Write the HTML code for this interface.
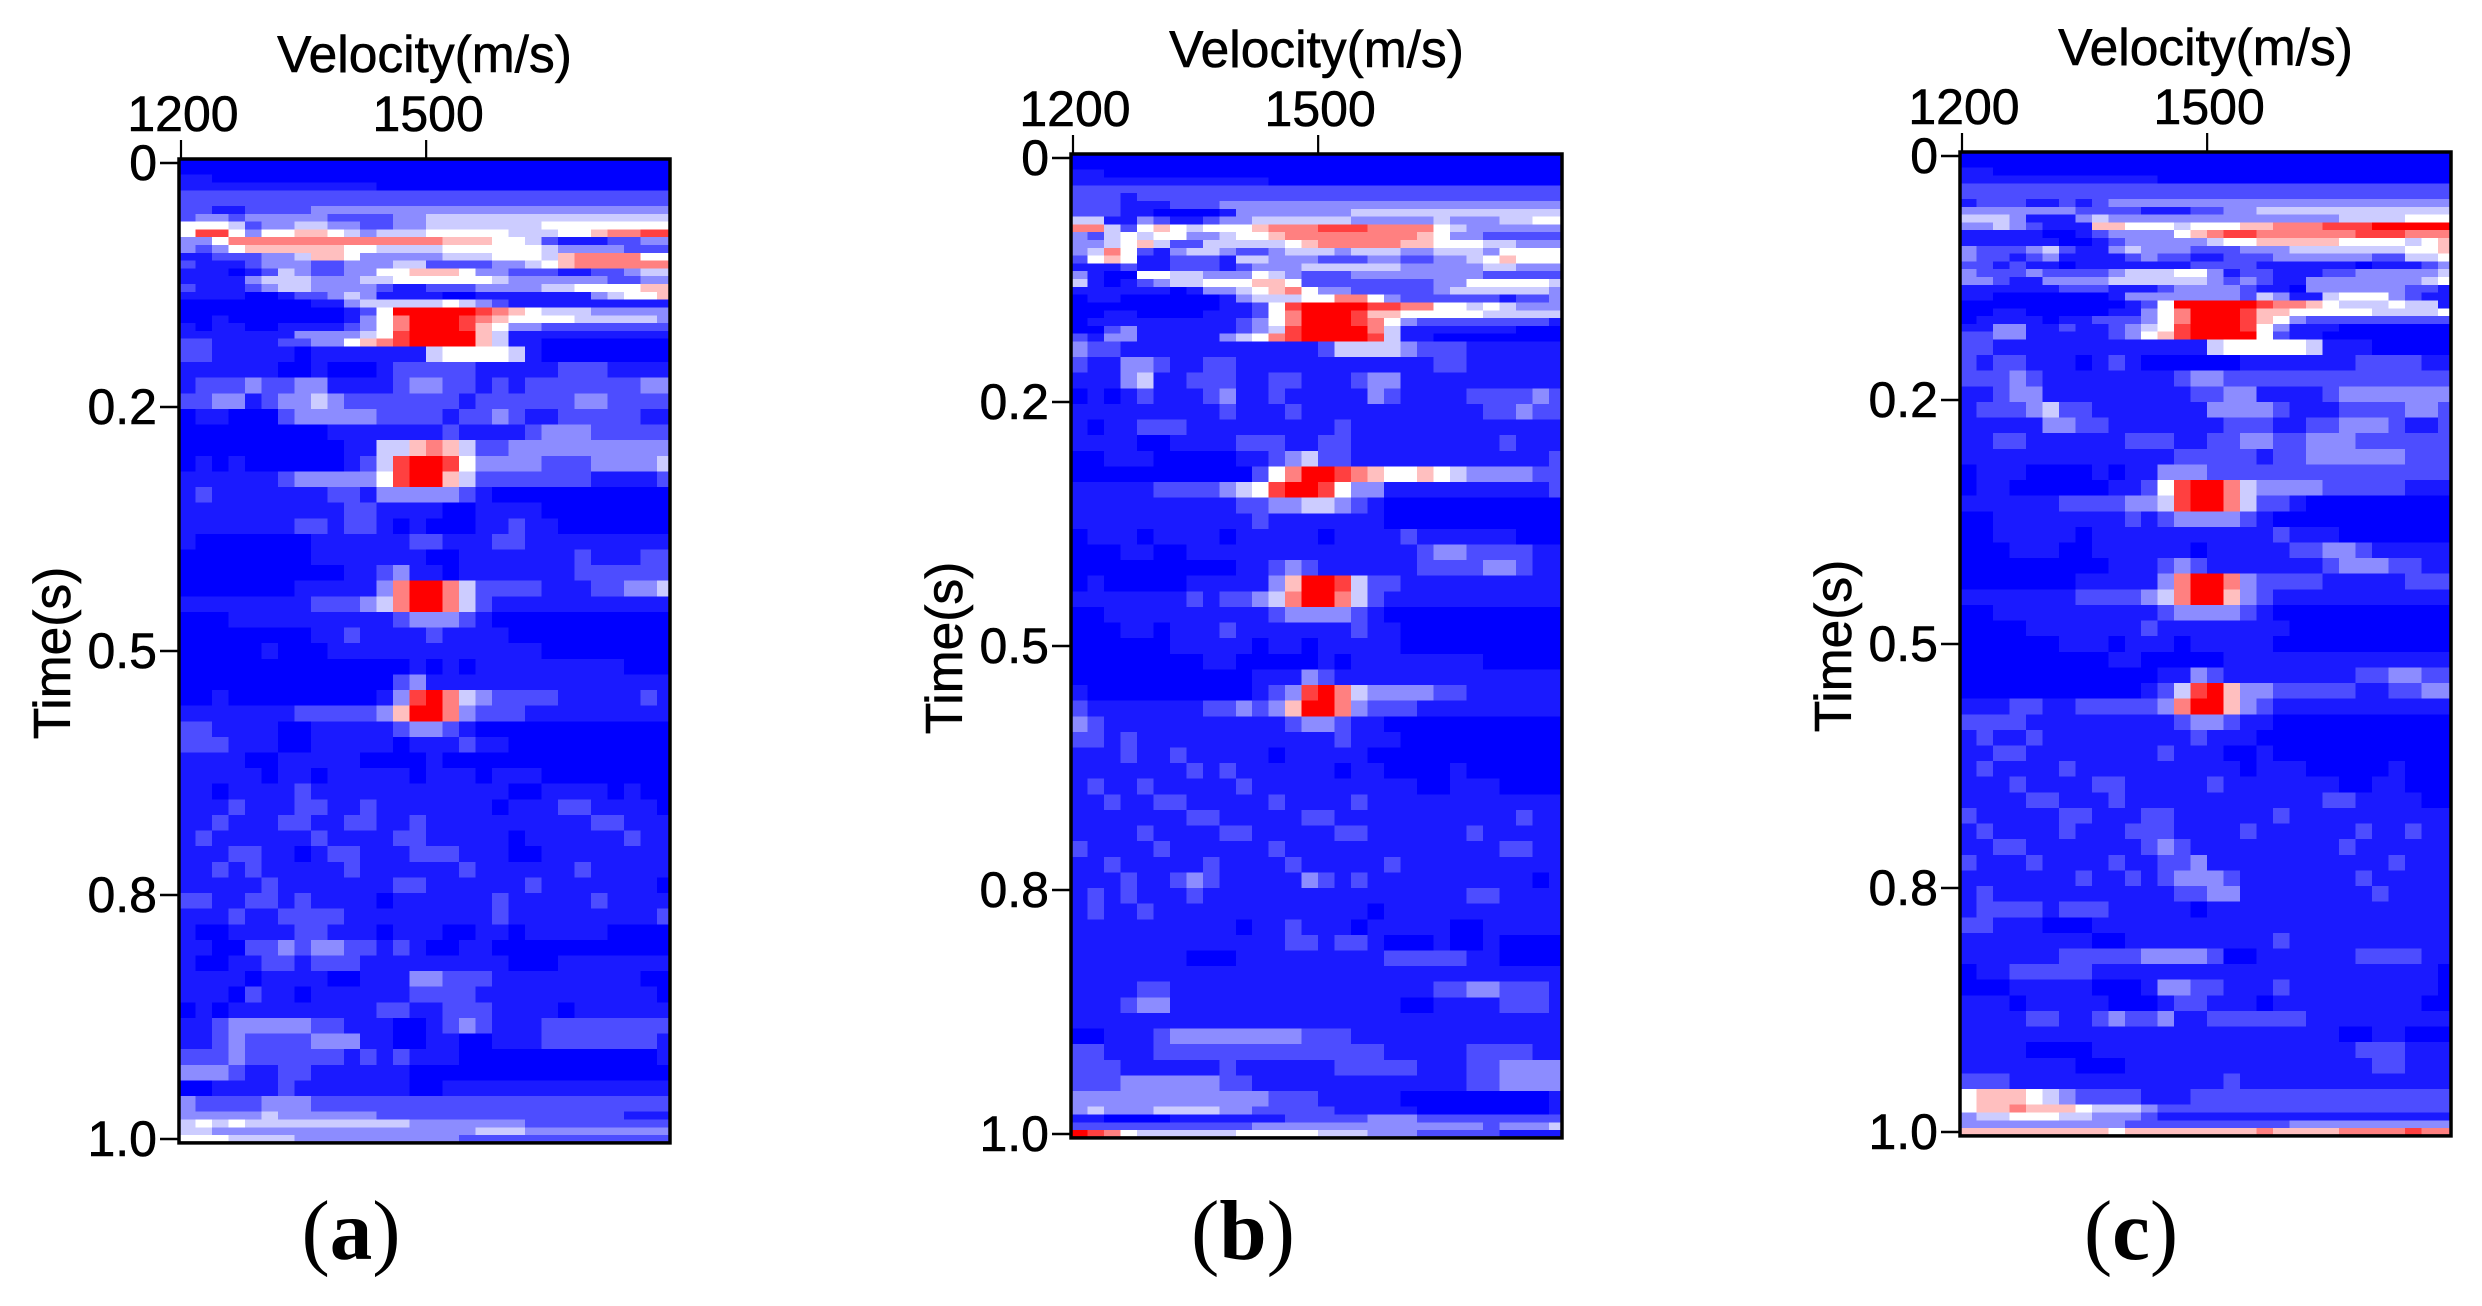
<!DOCTYPE html>
<html lang="en">
<head>
<meta charset="utf-8">
<title>Velocity spectra</title>
<style>
html,body{margin:0;padding:0;background:#fff}
#chart{display:block;width:2482px;height:1306px}
text{font-family:"Liberation Sans",Arial,sans-serif;fill:#000;stroke:#000;stroke-width:.6px}
text.cap{font-family:"Liberation Serif","Times New Roman",serif;stroke:none}
</style>
</head>
<body>
<svg id="chart" xmlns="http://www.w3.org/2000/svg" width="2482" height="1306" viewBox="0 0 2482 1306"></svg>
<script>
const velocityColumns=[1200,1220,1240,1260,1280,1300,1320,1340,1360,1380,1400,1420,1440,1460,1480,1500,1520,1540,1560,1580,1600,1620,1640,1660,1680,1700,1720,1740,1760,1780,1796];
const timeEdges=[-0.004,0.004,0.012,0.02,0.028,0.036,0.044,0.052,0.06,0.068,0.076,0.084,0.092,0.1,0.108,0.116,0.124,0.132,0.14,0.148,0.156,0.164,0.172,0.18,0.188,0.204,0.22,0.236,0.252,0.268,0.284,0.3,0.316,0.332,0.348,0.364,0.38,0.396,0.412,0.428,0.444,0.46,0.476,0.492,0.508,0.524,0.54,0.556,0.572,0.588,0.604,0.62,0.636,0.652,0.668,0.684,0.7,0.716,0.732,0.748,0.764,0.78,0.796,0.812,0.828,0.844,0.86,0.876,0.892,0.908,0.924,0.94,0.956,0.972,0.98,0.988,0.996,1.004];
const velocityTicks=[1200,1500];
const velocityTickLabels=["1200","1500"];
const timeTicks=[0,0.25,0.5,0.75,1.0];
const timeTickLabels=["0","0.2","0.5","0.8","1.0"];
const semblanceA=[
[0,0,0,0,0,0,0,0,0,0,0,0,0,0,0,0,0,0,0,0,0,0,0,0,0,0,0,0,0,0],
[0,0,0,0,0,0,0,0,0,0,0,0,0,0,0,0,0,0,0,0,0,0,0,0,0,0,0,0,0,0],
[1,1,0,0,0,0,0,0,0,0,0,0,0,0,0,0,0,0,0,0,0,0,0,0,0,0,0,0,0,0],
[1,1,1,1,1,1,1,1,1,1,1,1,0,0,0,0,0,0,0,0,0,0,0,0,0,0,0,0,0,0],
[2,2,2,2,2,2,2,2,2,2,2,2,2,2,2,2,2,2,2,2,2,2,2,2,2,2,2,2,2,2],
[2,2,2,2,2,2,2,2,2,2,2,2,2,2,2,2,2,2,2,2,2,2,2,2,2,2,2,2,2,2],
[2,2,1,1,2,2,2,2,3,3,3,3,3,3,3,3,3,3,3,3,3,3,3,3,3,3,3,3,3,3],
[2,3,3,2,3,3,3,3,3,2,2,2,2,3,3,4,4,4,4,4,4,4,4,4,4,4,4,4,4,4],
[5,5,5,4,2,3,3,4,4,3,3,2,2,3,3,4,4,4,4,4,4,4,5,5,5,5,5,5,5,5],
[5,8,8,5,3,5,5,6,6,5,4,3,4,4,4,5,5,5,5,5,4,4,4,5,5,6,7,7,8,8],
[3,3,5,7,7,7,7,7,7,7,7,7,7,7,7,7,6,6,6,5,5,4,2,1,1,1,2,2,3,3],
[3,2,3,5,6,6,6,6,6,6,5,5,4,4,4,4,5,5,5,5,5,5,4,3,3,3,3,2,2,2],
[1,1,2,2,2,3,3,4,6,6,5,3,3,3,3,3,4,4,4,5,5,5,4,6,7,7,7,7,5,5],
[2,1,1,1,2,3,3,3,2,2,3,3,3,4,4,2,2,2,2,3,3,4,5,6,7,7,7,7,7,7],
[1,1,1,0,1,2,4,3,2,2,3,3,5,5,6,6,6,5,3,3,2,2,2,1,1,2,2,3,4,4],
[1,1,1,1,3,4,4,4,3,3,3,4,4,5,5,5,5,5,5,4,3,3,3,3,3,3,2,2,3,3],
[2,1,1,1,2,3,4,4,3,3,3,3,2,1,1,2,2,2,3,3,3,3,4,4,5,5,5,5,6,6],
[1,1,1,1,0,0,1,2,2,3,4,3,1,1,1,1,0,0,1,1,1,1,1,1,1,3,4,5,5,6],
[0,0,0,0,0,0,0,0,1,1,3,4,4,4,4,4,5,4,3,2,1,1,1,1,1,1,1,1,1,1],
[0,0,0,0,0,0,0,0,0,0,1,2,5,9,9,9,9,9,8,7,6,5,4,4,4,3,3,3,3,3],
[0,0,1,0,0,0,0,0,0,0,1,3,5,7,9,9,9,8,7,6,5,5,5,5,4,4,4,4,4,3],
[1,0,1,1,0,0,1,1,1,1,2,3,5,7,9,9,9,8,6,5,3,3,2,2,2,2,2,2,2,2],
[1,1,1,1,1,1,1,3,3,3,3,4,5,8,9,9,9,9,6,4,1,1,1,1,1,1,1,1,1,1],
[2,2,1,1,1,1,2,2,3,3,5,6,7,8,9,9,9,9,6,4,1,1,0,0,0,0,0,0,0,0],
[2,2,1,1,1,1,1,0,1,1,1,1,1,1,1,4,5,5,5,5,4,1,0,0,0,0,0,0,0,0],
[1,1,1,1,1,1,0,0,1,0,0,0,1,2,2,2,2,2,1,1,1,1,1,2,2,2,1,1,1,1],
[1,2,2,2,3,2,2,3,3,1,1,1,1,2,3,3,2,2,1,2,1,2,2,2,2,2,2,2,3,3],
[2,2,3,3,1,2,3,3,4,3,2,2,2,2,2,2,2,1,2,2,2,2,2,2,3,3,2,2,2,2],
[0,1,1,0,0,0,2,3,3,3,3,3,2,2,2,2,1,2,2,3,2,1,1,2,2,2,2,2,1,1],
[0,0,0,0,0,0,0,0,0,1,1,1,1,1,1,1,2,1,1,1,1,2,3,3,3,2,2,2,2,2],
[0,0,0,0,0,0,0,0,0,0,1,1,4,4,6,7,6,4,2,2,3,3,3,3,3,3,3,3,3,3],
[0,1,0,1,0,0,0,0,0,0,1,2,4,8,9,9,8,5,3,3,3,3,2,2,2,3,3,3,3,4],
[1,1,1,1,1,1,2,3,3,3,3,3,5,8,9,9,6,4,2,2,2,2,2,2,2,1,1,1,1,2],
[1,2,1,1,1,1,1,1,1,2,2,1,3,3,3,3,3,2,1,0,0,0,0,0,0,0,0,0,0,0],
[1,1,1,1,1,1,1,1,1,1,2,2,1,1,1,1,0,0,1,1,1,1,0,0,0,0,0,0,0,0],
[1,1,1,1,1,1,1,2,2,1,2,2,1,0,1,0,0,0,1,1,2,1,1,0,0,0,0,0,0,0],
[1,0,0,0,0,0,0,0,1,1,1,1,1,1,2,2,1,1,1,2,2,1,1,1,1,1,1,1,1,1],
[0,0,0,0,0,0,0,0,1,1,1,1,1,1,1,0,0,1,1,1,1,1,1,1,2,1,1,1,2,2],
[0,0,0,0,0,0,0,0,0,0,1,1,2,3,1,1,0,1,1,1,1,1,1,1,2,2,2,2,2,2],
[0,0,0,0,0,0,0,1,1,1,1,1,3,7,9,9,7,4,2,2,2,2,1,1,1,2,2,3,3,4],
[1,1,1,1,1,1,1,1,2,2,2,3,4,7,9,9,7,4,2,1,1,1,1,1,1,1,1,1,1,1],
[0,0,0,1,1,1,1,1,1,1,1,1,1,2,3,3,3,2,1,0,0,0,0,0,0,0,0,0,0,0],
[0,0,0,0,0,0,0,0,1,1,2,1,1,1,1,2,1,1,1,1,0,0,0,0,0,0,0,0,0,0],
[0,0,0,0,0,1,0,0,0,1,1,1,1,1,1,1,1,1,1,1,1,1,0,0,0,0,0,0,0,0],
[0,0,0,0,0,0,0,0,0,0,0,0,0,0,1,0,1,0,1,1,1,1,1,1,1,1,1,0,0,0],
[0,0,0,0,0,0,0,0,0,0,0,0,0,2,3,1,1,1,1,1,1,1,1,1,1,1,1,1,1,1],
[0,0,1,0,0,0,0,0,0,0,0,0,1,3,8,9,7,4,3,2,2,2,2,1,1,1,1,1,2,1],
[1,1,1,1,1,1,1,2,2,2,2,2,3,6,9,9,7,3,2,2,2,1,1,1,1,1,1,1,1,1],
[2,2,1,1,1,1,0,0,1,1,1,1,1,2,3,3,2,1,0,0,0,0,0,0,0,0,0,0,0,0],
[2,2,2,1,1,1,0,0,1,1,1,1,1,0,1,1,1,2,1,1,0,0,0,0,0,0,0,0,0,0],
[1,1,1,1,0,0,1,1,1,1,1,0,0,0,0,1,0,0,0,0,0,0,0,0,0,0,0,0,0,0],
[1,1,1,1,1,0,1,1,0,1,1,1,1,1,0,1,1,1,0,1,1,1,0,0,0,0,0,0,0,0],
[1,1,0,1,1,1,1,2,1,1,1,1,1,1,1,1,1,1,1,1,0,0,1,1,1,1,0,1,0,0],
[1,1,1,2,1,1,1,2,2,1,1,2,1,1,1,1,1,1,1,0,1,1,1,2,2,1,1,1,1,0],
[1,1,2,1,1,1,2,2,1,1,2,2,1,1,2,1,1,1,1,1,1,1,1,1,1,2,2,1,1,1],
[1,2,1,1,1,1,1,1,2,1,1,1,1,2,2,1,1,1,1,1,0,1,1,1,1,1,1,2,1,1],
[1,1,1,2,2,1,1,0,1,2,2,1,1,1,2,2,2,1,1,1,0,0,1,1,1,1,1,1,1,1],
[1,1,2,1,2,1,1,1,1,1,2,1,1,1,1,1,1,2,1,1,1,1,1,1,2,1,1,1,1,1],
[1,1,1,1,1,2,1,1,1,1,1,1,1,2,2,1,1,1,1,1,1,2,1,1,1,1,1,1,1,0],
[2,2,1,1,2,2,1,2,1,1,1,1,0,1,1,1,1,1,1,2,1,1,1,1,1,2,1,1,1,1],
[1,1,1,2,1,1,2,2,2,2,1,1,1,1,1,1,1,1,1,2,1,1,1,1,1,1,1,1,1,2],
[1,0,0,1,1,1,1,2,2,1,1,1,0,1,1,1,0,0,1,1,0,1,1,1,1,1,0,0,0,0],
[1,1,0,0,2,2,3,2,3,3,2,2,1,2,1,0,0,1,1,0,0,0,0,0,0,0,0,0,0,0],
[1,0,0,1,1,2,2,1,2,2,2,1,1,1,1,1,1,1,1,1,0,0,0,1,1,1,1,1,1,1],
[1,1,1,1,0,1,1,1,1,0,0,1,1,1,3,3,2,2,2,1,1,1,1,1,1,1,1,1,0,0],
[1,1,1,0,2,1,1,0,1,1,1,1,1,1,2,2,2,2,1,1,1,1,1,1,1,1,1,1,1,0],
[0,1,0,1,1,1,1,1,1,1,1,1,2,2,1,1,2,2,2,1,1,1,1,0,1,1,1,1,1,1],
[1,1,2,3,3,3,3,3,2,2,1,1,1,0,0,1,2,3,2,1,1,1,2,2,2,2,2,2,2,2],
[1,1,2,3,2,2,2,2,3,3,3,1,1,0,0,1,1,0,0,1,1,1,2,2,2,2,2,2,2,1],
[2,2,2,3,2,2,2,2,2,2,1,2,1,2,1,1,1,0,0,0,0,0,0,0,0,0,0,0,0,1],
[3,3,3,2,1,1,2,2,1,1,1,1,1,1,0,0,0,0,0,0,0,0,0,0,0,0,0,0,0,0],
[0,0,1,1,1,1,2,1,1,1,1,1,1,1,0,0,1,1,1,1,1,1,1,1,1,1,1,1,1,1],
[3,2,2,2,2,3,3,3,2,2,2,2,2,2,2,2,2,2,2,2,2,2,2,2,2,2,2,2,2,2],
[3,3,3,3,3,4,3,3,3,3,3,3,2,2,2,2,2,2,2,2,2,2,2,2,2,2,2,1,1,1],
[4,5,4,5,4,4,4,4,4,4,4,4,4,4,3,3,3,3,3,3,3,2,2,2,2,2,2,2,2,2],
[4,4,3,3,3,3,3,3,3,3,3,3,3,3,3,3,3,3,4,4,4,3,3,3,3,3,3,3,3,3],
[5,5,5,4,4,4,4,3,3,3,3,3,3,3,3,3,3,2,2,2,2,2,2,2,2,2,2,2,2,2]
];
const semblanceB=[
[0,0,0,0,0,0,0,0,0,0,0,0,0,0,0,0,0,0,0,0,0,0,0,0,0,0,0,0,0,0],
[0,0,0,0,0,0,0,0,0,0,0,0,0,0,0,0,0,0,0,0,0,0,0,0,0,0,0,0,0,0],
[1,1,0,0,0,0,0,0,0,0,0,0,0,0,0,0,0,0,0,0,0,0,0,0,0,0,0,0,0,0],
[1,1,1,1,1,1,1,1,1,1,1,1,0,0,0,0,0,0,0,0,0,0,0,0,0,0,0,0,0,0],
[2,2,2,2,2,2,2,2,2,2,2,2,2,2,2,2,2,2,2,2,2,2,2,2,2,2,2,2,2,2],
[2,2,2,1,2,2,2,2,2,2,2,2,2,2,2,2,2,2,2,2,2,2,2,2,2,2,2,2,2,2],
[2,2,2,1,1,1,2,2,2,3,3,3,3,3,3,3,3,3,3,3,3,3,3,3,3,3,3,3,3,3],
[2,2,2,1,1,0,0,0,0,1,3,3,3,3,3,3,3,4,4,4,4,4,4,4,4,4,4,4,4,4],
[4,4,1,1,3,2,1,1,2,3,3,4,4,4,4,4,4,3,3,3,3,3,4,3,3,3,4,4,5,5],
[7,7,4,2,5,6,5,4,5,5,5,6,7,7,7,8,8,8,7,7,7,7,5,4,3,3,3,3,3,3],
[3,2,4,5,4,5,5,3,3,4,5,5,6,7,7,7,7,7,7,7,7,6,5,3,3,2,2,2,2,2],
[3,3,4,5,6,4,2,2,4,4,4,4,4,5,6,7,7,7,7,7,6,6,5,5,5,4,4,3,3,3],
[3,4,7,5,2,1,3,4,4,3,2,2,3,4,4,4,3,4,4,4,3,3,4,4,4,3,5,5,5,5],
[2,5,6,5,1,1,2,2,2,1,4,4,3,3,3,2,2,2,3,3,2,2,3,3,4,5,6,5,5,5],
[1,1,1,2,1,1,2,2,2,1,2,3,3,3,4,4,4,4,4,4,3,3,3,3,3,4,4,3,3,3],
[3,1,0,0,5,5,4,4,3,3,3,5,4,3,2,2,2,3,3,3,3,3,3,3,3,2,2,2,2,2],
[4,1,0,1,2,3,4,4,5,5,5,6,6,5,2,2,2,2,2,2,2,2,3,3,5,5,5,5,5,4],
[1,1,1,1,1,1,0,1,3,3,4,5,6,7,5,3,3,2,2,2,2,2,3,4,4,4,4,4,4,3],
[0,1,1,0,0,0,0,0,0,1,3,4,4,4,5,5,7,7,5,3,2,2,2,2,2,2,1,2,2,3],
[0,0,0,0,0,0,0,0,0,1,1,2,5,8,9,9,9,9,8,8,7,7,5,5,4,5,4,3,3,3],
[0,0,1,1,0,0,0,0,1,1,1,2,5,7,9,9,9,8,6,6,5,5,5,5,5,4,4,4,4,4],
[0,1,1,1,1,1,1,1,1,1,2,3,5,7,9,9,9,8,7,5,3,2,2,2,2,2,2,2,2,1],
[0,0,2,3,1,1,1,1,1,1,2,3,4,8,9,9,9,9,7,4,1,1,1,1,1,1,1,0,0,0],
[2,1,3,3,1,1,1,1,1,3,4,5,7,8,9,9,9,9,8,4,1,1,0,0,0,0,0,0,0,0],
[3,2,2,1,1,1,1,1,1,1,1,1,1,1,1,2,4,4,4,4,3,2,2,2,1,1,1,1,1,1],
[2,1,1,3,3,2,1,1,2,2,1,1,1,1,1,1,1,1,1,1,1,1,2,2,1,1,1,1,1,1],
[1,1,1,3,4,1,1,2,2,2,1,1,2,2,1,1,1,2,3,3,1,1,1,1,1,1,1,1,1,1],
[0,1,0,1,2,1,1,1,2,3,1,1,2,1,1,1,1,1,3,2,1,1,1,1,2,2,2,2,3,2],
[1,1,1,1,1,1,1,1,1,2,1,1,1,2,1,1,1,1,1,1,1,1,1,1,1,2,2,3,2,2],
[1,0,1,1,2,2,2,1,1,1,1,1,1,1,1,1,2,1,1,1,1,1,1,1,1,1,1,1,1,1],
[1,1,1,1,0,0,1,1,1,1,2,2,2,1,1,2,2,1,1,1,1,1,1,1,1,1,2,1,1,1],
[0,0,1,1,1,0,0,0,0,0,1,1,2,3,4,2,2,1,1,1,1,1,1,1,1,1,1,1,1,2],
[0,0,0,0,0,0,0,0,0,0,0,2,5,7,9,9,8,7,6,5,5,6,5,4,3,3,3,3,2,2],
[1,1,1,1,1,2,2,2,2,3,4,5,8,9,9,8,5,3,3,1,1,1,1,1,1,1,1,1,1,2],
[1,1,1,1,1,1,1,1,1,1,2,2,3,3,4,4,3,2,1,0,0,0,0,0,0,0,0,0,0,0],
[1,1,1,1,1,1,1,1,1,1,1,2,1,1,1,1,1,1,1,0,0,0,0,0,0,0,0,0,0,0],
[0,1,1,1,0,1,1,1,1,0,1,1,1,1,1,0,1,1,1,1,2,1,1,1,1,1,1,0,0,0],
[0,0,0,1,1,0,0,1,1,1,1,1,1,1,1,1,1,1,1,1,1,2,3,3,2,2,2,2,1,1],
[0,0,0,0,0,0,0,0,0,0,1,1,2,3,2,1,1,1,1,1,1,2,2,2,2,3,3,2,1,1],
[0,1,0,0,0,0,0,1,1,1,1,1,3,6,9,9,8,4,2,2,1,1,1,1,1,1,1,1,1,1],
[1,1,1,1,1,1,1,2,1,2,2,3,4,7,9,9,7,4,2,1,1,1,1,1,1,1,1,1,1,1],
[0,0,1,1,1,1,1,1,1,1,1,1,2,3,3,3,3,2,1,0,0,0,0,0,0,0,0,0,0,0],
[0,0,0,1,1,0,1,1,1,2,1,1,1,1,1,1,1,2,1,1,0,0,0,0,0,0,0,0,0,0],
[0,0,0,0,0,0,1,1,1,1,1,0,1,1,0,1,1,1,1,1,0,0,0,0,0,0,0,0,0,0],
[0,0,0,0,0,0,0,0,1,1,0,0,0,0,0,1,0,1,1,1,1,1,1,1,1,0,0,0,0,0],
[0,0,0,0,0,0,0,0,0,0,0,1,1,1,3,2,1,1,1,1,1,1,1,1,1,1,1,1,1,1],
[1,0,0,0,0,0,0,0,0,0,0,1,2,3,8,9,7,4,3,3,3,3,2,2,1,1,1,1,1,1],
[2,1,1,1,1,1,1,1,2,2,3,2,3,6,9,9,7,3,2,2,2,1,1,1,1,1,1,1,1,1],
[3,2,1,1,1,1,1,1,1,1,1,1,1,2,3,3,2,1,1,0,0,0,0,0,0,0,0,0,0,0],
[2,2,1,2,1,1,1,1,1,1,1,1,1,1,1,1,2,1,1,1,0,0,0,0,0,0,0,0,0,0],
[1,1,1,2,1,1,2,1,1,1,1,1,0,1,1,1,1,1,0,0,0,0,0,0,0,0,0,0,0,0],
[1,1,1,1,1,1,1,2,1,2,1,1,1,1,1,1,0,1,1,0,0,0,0,1,0,0,0,0,0,0],
[1,2,1,1,2,1,1,1,1,1,2,1,1,1,1,1,1,1,1,1,1,0,0,1,1,1,0,0,0,0],
[1,1,2,1,1,2,2,1,1,1,1,1,2,1,1,1,1,2,1,1,1,1,1,1,1,1,1,1,1,1],
[1,1,1,1,1,1,1,2,2,1,1,1,1,1,2,2,1,1,1,1,1,1,1,1,1,1,1,2,1,1],
[1,1,1,1,2,1,1,1,1,2,2,1,1,1,1,1,2,2,1,1,1,1,1,1,2,1,1,1,1,1],
[2,1,1,1,1,2,1,1,1,1,1,1,2,1,1,1,1,1,1,1,1,1,1,1,1,1,2,2,1,1],
[1,1,2,1,1,1,1,1,2,1,1,1,1,2,1,1,1,1,1,2,1,1,1,1,1,1,1,1,1,1],
[1,1,1,2,1,1,2,3,2,1,1,1,1,1,3,2,1,2,1,1,1,1,1,1,1,1,1,1,0,1],
[1,2,1,2,1,1,1,2,1,1,1,1,1,1,1,1,1,1,1,1,1,1,1,1,2,2,1,1,1,1],
[1,2,1,1,2,1,1,1,1,1,1,1,1,1,1,1,1,1,0,1,1,1,1,1,1,1,1,1,1,1],
[1,1,1,1,1,1,1,1,1,1,0,1,1,2,1,1,1,0,1,1,1,1,1,0,0,1,1,1,1,1],
[1,1,1,1,1,1,1,1,1,1,1,1,1,2,2,1,2,2,1,0,0,0,1,0,0,1,0,0,0,0],
[1,1,1,1,1,1,1,0,0,0,1,1,1,1,1,1,1,1,1,2,2,2,2,2,1,1,0,0,0,0],
[1,1,1,1,1,1,1,1,1,1,1,1,1,1,1,1,1,1,1,1,1,1,1,1,1,1,1,1,1,1],
[1,1,1,1,2,2,1,1,1,1,1,1,1,1,1,1,1,1,1,1,1,1,2,2,3,3,2,2,2,1],
[1,1,1,2,3,3,1,1,1,1,1,1,1,1,1,1,1,1,1,1,0,0,1,1,1,1,2,2,2,1],
[1,1,1,1,1,1,1,1,1,1,1,1,1,1,1,1,1,1,1,1,1,1,1,1,1,1,1,1,1,1],
[0,0,1,1,1,2,3,3,3,3,3,3,3,3,2,2,2,1,1,1,1,1,1,1,1,1,1,1,1,1],
[2,2,1,1,1,2,2,2,2,2,2,2,2,2,2,2,2,2,2,1,1,1,1,1,2,2,2,2,1,1],
[2,2,2,1,1,1,1,1,1,2,1,1,1,1,1,1,2,2,2,2,2,1,1,1,2,2,3,3,3,3],
[2,2,2,3,3,3,3,3,3,2,2,1,1,1,1,1,1,1,1,1,1,1,1,1,2,2,3,3,3,3],
[3,3,3,3,3,3,3,3,3,3,3,3,2,2,2,1,1,1,1,1,0,0,0,0,0,0,0,0,0,1],
[3,4,3,3,3,4,4,4,4,3,3,2,2,2,2,2,1,1,1,1,1,0,0,0,0,0,0,0,0,1],
[1,1,0,0,0,0,1,1,1,1,1,1,1,2,2,2,2,2,3,3,3,2,2,2,2,2,2,2,2,2],
[2,2,2,2,2,2,2,2,2,2,2,3,3,3,3,3,3,3,3,3,3,3,3,3,3,2,3,3,3,4],
[9,8,7,5,4,4,4,4,4,4,5,5,5,5,5,4,4,4,3,3,3,2,2,2,2,2,1,1,1,1]
];
const semblanceC=[
[0,0,0,0,0,0,0,0,0,0,0,0,0,0,0,0,0,0,0,0,0,0,0,0,0,0,0,0,0,0],
[0,0,0,0,0,0,0,0,0,0,0,0,0,0,0,0,0,0,0,0,0,0,0,0,0,0,0,0,0,0],
[1,1,0,0,0,0,0,0,0,0,0,0,0,0,0,0,0,0,0,0,0,0,0,0,0,0,0,0,0,0],
[1,1,1,1,1,1,1,1,1,1,1,1,0,0,0,0,0,0,0,0,0,0,0,0,0,0,0,0,0,0],
[2,2,2,2,2,2,2,2,2,2,2,2,2,2,2,2,2,2,2,2,2,2,2,2,2,2,2,2,2,2],
[2,2,2,2,2,2,2,2,2,2,2,2,2,2,2,2,2,2,2,2,2,2,2,2,2,2,2,2,2,2],
[1,2,2,2,1,1,2,1,2,3,3,3,3,3,3,3,3,3,3,3,3,3,3,3,3,3,3,3,3,3],
[3,3,3,3,3,3,3,2,2,2,2,1,1,1,2,2,3,3,4,4,4,4,4,4,4,4,4,4,4,4],
[4,4,4,3,1,1,1,3,4,3,3,3,3,3,3,3,3,3,3,3,3,3,3,4,4,4,4,5,5,5],
[3,3,4,3,2,1,1,1,6,6,5,5,5,4,5,5,5,6,6,7,7,7,8,8,8,9,9,9,9,9],
[1,1,1,1,1,0,0,1,2,3,3,3,3,5,6,7,8,8,7,7,7,7,7,7,8,8,8,7,7,7],
[1,1,1,1,1,1,0,0,1,2,3,3,3,3,3,4,5,5,6,6,6,6,6,5,5,5,5,4,5,6],
[3,2,2,2,3,4,2,1,1,3,4,3,3,3,2,2,2,3,3,3,4,4,4,4,4,4,4,5,5,6],
[3,2,2,1,2,3,1,1,1,1,2,3,2,2,1,1,2,2,2,3,3,3,3,3,3,2,2,4,4,5],
[2,2,1,2,1,1,0,1,1,1,1,1,1,1,2,2,2,2,1,1,1,1,1,1,0,1,1,1,2,3],
[3,2,2,2,3,2,2,2,2,3,4,4,4,5,5,3,1,2,2,1,1,1,2,2,3,3,3,3,3,4],
[3,3,2,1,1,3,3,3,3,4,4,4,4,4,4,3,2,3,2,1,1,3,3,3,3,3,3,3,4,5],
[1,1,1,1,1,1,2,2,2,1,1,1,2,3,3,3,3,2,1,1,0,3,3,3,3,3,3,2,2,1],
[1,1,0,0,0,0,0,0,0,1,3,3,3,3,3,3,3,2,4,3,1,1,4,5,5,5,3,2,1,1],
[0,0,0,0,0,0,0,0,0,0,1,2,5,9,9,9,9,9,8,7,7,6,5,4,4,4,5,4,4,1],
[0,0,1,1,0,0,0,0,0,1,1,3,5,7,9,9,9,8,6,6,5,5,5,5,5,4,4,4,4,5],
[0,1,1,1,1,0,1,1,2,2,2,3,5,7,9,9,9,8,6,5,3,2,2,2,2,2,2,2,2,2],
[1,1,3,3,1,1,2,1,1,2,3,4,5,8,9,9,9,8,5,3,1,1,1,0,0,0,0,0,0,0],
[2,2,3,3,1,1,1,1,1,2,3,5,6,8,9,9,9,9,5,2,1,1,0,0,0,0,0,0,0,0],
[2,2,1,1,1,1,1,1,1,1,1,1,1,1,1,4,5,5,5,5,5,4,1,1,1,0,0,0,0,0],
[2,1,2,2,1,1,1,0,1,2,1,0,0,0,0,0,0,1,1,1,1,1,1,1,2,2,2,2,1,1],
[2,2,2,3,2,1,1,1,1,1,1,1,1,2,3,3,2,2,2,2,2,2,2,2,2,2,2,2,2,2],
[1,1,2,3,3,1,1,1,1,1,1,1,1,1,2,2,3,3,1,1,1,1,2,3,3,3,3,3,3,3],
[1,2,2,2,3,4,2,2,1,1,1,1,1,1,1,3,3,3,3,2,1,1,1,2,2,2,2,3,3,2],
[1,1,1,1,1,3,3,2,2,1,1,1,1,1,1,1,2,2,2,1,1,2,2,3,3,3,2,1,1,2],
[1,1,2,2,1,1,1,1,1,1,2,2,2,1,1,2,2,3,3,2,2,3,3,3,2,2,2,2,2,2],
[1,1,1,1,1,1,1,1,1,1,1,1,1,2,2,2,2,2,1,2,2,3,3,3,3,3,3,2,2,2],
[0,1,1,1,0,0,0,0,1,0,1,1,3,3,3,2,2,2,2,2,2,2,2,2,2,2,2,2,2,2],
[0,1,1,0,0,0,0,0,0,1,1,2,5,8,9,9,7,4,3,3,3,3,2,2,2,2,2,1,1,1],
[1,1,1,1,1,1,2,2,2,2,3,3,4,8,9,9,7,4,2,2,1,0,0,0,0,0,0,0,0,0],
[0,0,1,1,1,1,1,1,1,1,2,1,2,3,3,3,3,2,1,0,0,0,0,0,0,0,0,0,0,0],
[0,0,1,1,1,1,1,0,1,1,1,1,1,1,1,1,1,1,1,2,1,1,1,0,0,0,0,0,0,0],
[0,0,0,1,1,1,0,0,1,1,1,1,1,1,0,1,1,1,1,1,2,2,3,3,2,1,1,1,1,1],
[0,0,0,0,0,0,0,0,0,1,1,1,2,3,2,1,1,1,1,1,1,1,2,3,3,3,2,2,1,1],
[0,0,0,0,0,0,0,1,1,1,1,1,3,7,9,9,7,3,2,2,2,2,1,1,1,1,1,2,2,2],
[1,1,1,1,1,1,1,2,2,2,2,3,4,7,9,9,6,3,2,1,1,1,1,1,1,1,1,1,1,1],
[0,0,1,1,1,1,1,1,1,1,1,1,2,3,3,3,3,2,1,0,0,0,0,0,0,0,0,0,0,0],
[0,0,0,0,1,1,1,1,1,1,1,2,1,1,1,1,1,1,1,1,0,0,0,0,0,0,0,0,0,0],
[0,0,0,0,0,0,1,1,1,0,1,1,1,0,1,1,1,1,1,0,0,0,0,0,0,0,0,0,0,0],
[0,0,0,0,0,0,0,0,0,1,1,0,0,0,0,0,1,1,1,1,1,1,1,1,1,1,1,1,1,1],
[0,0,0,0,0,0,0,0,0,0,0,0,1,1,3,2,1,1,1,1,1,1,1,1,2,2,3,3,2,2],
[0,0,0,0,0,0,0,0,0,0,0,1,2,4,8,9,6,3,3,2,2,2,2,2,1,1,2,2,3,3],
[1,1,1,2,2,1,1,2,2,2,2,2,3,7,9,9,6,3,2,1,1,1,1,1,1,1,1,1,1,1],
[2,2,2,2,1,1,1,1,1,1,1,1,1,2,3,3,2,1,1,0,0,0,0,0,0,0,0,0,0,0],
[1,2,1,1,2,1,1,1,1,1,1,1,1,1,2,1,1,1,0,0,0,0,0,0,0,0,0,0,0,0],
[1,1,2,2,1,1,1,1,1,1,1,1,2,1,1,1,0,0,1,0,0,0,0,0,0,0,0,0,0,0],
[1,2,1,1,1,1,2,1,1,1,1,1,1,1,1,1,1,0,1,1,1,0,0,0,0,0,1,0,0,0],
[1,1,1,2,1,1,1,1,2,2,1,1,1,1,1,2,1,1,1,1,1,1,1,0,0,1,1,0,0,0],
[1,1,1,1,2,2,1,1,1,2,1,1,1,1,1,1,1,1,1,1,1,1,2,2,1,1,1,1,0,0],
[2,1,1,1,1,1,2,2,1,1,1,2,2,1,1,1,1,1,1,2,1,1,1,1,1,1,1,1,1,1],
[1,2,1,1,1,1,2,1,1,1,2,2,2,1,1,1,1,2,1,1,1,1,1,1,2,1,1,2,1,1],
[1,1,2,2,1,1,1,1,1,1,1,2,3,2,1,1,1,1,1,1,1,1,1,2,1,1,1,1,1,1],
[2,1,1,1,2,1,1,1,1,2,1,1,2,2,3,1,1,1,1,1,1,1,1,1,1,1,2,1,1,1],
[1,1,1,1,1,1,1,2,1,1,2,1,2,3,3,3,2,1,1,1,1,1,1,1,2,1,1,1,1,1],
[1,2,1,1,1,1,1,1,1,1,1,1,1,2,2,3,3,1,1,1,1,1,1,1,1,2,1,1,1,1],
[1,2,2,2,2,1,2,2,2,1,1,1,1,1,0,1,1,1,1,1,1,1,1,1,1,1,1,1,1,1],
[2,2,1,1,1,0,0,0,1,1,1,1,1,1,1,1,1,1,1,1,1,1,1,1,1,1,1,1,1,1],
[1,1,1,1,1,1,1,1,0,0,1,1,1,1,1,1,1,1,1,2,1,1,1,1,1,1,1,1,1,1],
[1,1,1,1,1,1,2,2,2,2,2,3,3,3,3,2,0,0,1,1,1,1,1,1,2,2,2,2,1,1],
[0,1,1,2,2,2,2,2,1,1,1,1,1,1,1,1,1,1,1,1,1,1,1,1,1,1,1,1,1,0],
[0,0,0,1,1,1,1,1,0,0,0,1,3,3,2,2,1,1,1,2,1,1,1,1,1,1,1,1,1,0],
[1,1,1,0,1,1,1,1,1,0,0,0,1,2,2,1,1,1,0,1,1,1,1,1,1,1,1,1,0,0],
[1,1,1,1,2,2,1,1,2,3,2,2,3,1,1,2,2,2,2,2,2,1,1,1,1,1,1,1,1,1],
[1,1,1,1,1,1,1,1,1,1,1,1,1,1,1,1,1,1,1,1,1,1,1,0,0,1,1,0,0,0],
[1,1,1,1,0,0,0,0,1,1,1,1,1,1,1,1,1,1,1,1,1,1,1,1,2,2,2,1,1,1],
[1,1,1,1,1,1,1,0,0,0,1,1,1,1,1,1,1,1,1,1,1,1,1,1,1,2,2,1,1,1],
[2,2,2,1,1,1,1,1,1,1,1,1,1,1,1,1,2,1,1,1,1,1,1,1,1,1,1,1,1,1],
[5,6,6,6,5,4,3,2,2,2,2,1,1,1,2,2,2,2,2,2,2,2,2,2,2,2,2,2,2,2],
[5,6,6,7,6,6,6,5,4,4,4,3,2,2,2,2,2,2,2,2,2,2,2,2,2,2,2,2,2,2],
[3,4,4,5,5,5,4,4,3,3,3,2,1,1,1,1,1,1,1,1,1,1,1,1,1,1,1,1,1,1],
[3,3,3,3,3,3,3,3,3,3,2,2,2,2,2,2,2,2,2,2,3,3,3,3,3,3,3,3,3,3],
[6,6,6,6,6,6,6,6,6,5,6,6,6,6,6,6,6,6,7,6,6,6,6,7,7,7,7,8,7,7]
];
const panelCaptions=["a","b","c"];
const blueRamp=[0,0.1,0.3,0.55,0.8,1];

const svg=document.getElementById('chart');
const NS='http://www.w3.org/2000/svg';
function colorOf(v){
  if(v<=5){const c=Math.round(255*blueRamp[v]);return 'rgb('+c+','+c+',255)';}
  const c=Math.round(255*(1-(v-5)/4));return 'rgb(255,'+c+','+c+')';
}
function make(tag,attrs,parent){
  const el=document.createElementNS(NS,tag);
  for(const k in attrs)el.setAttribute(k,attrs[k]);
  parent.appendChild(el);
  return el;
}
function drawPanel(id,grid,left,right,top,captionX){
  const xScale=v=>left+(v-1200)/596*(right-left);
  const yScale=t=>top+4+976*t;
  const bottom=yScale(1.004);
  const g=make('g',{},svg);
  
  
  const cells=make('g',{'shape-rendering':'crispEdges'},g);
  
  
  grid.forEach((row,r)=>{
    row.forEach((val,c)=>{
      const x0=xScale(velocityColumns[c]),x1=xScale(velocityColumns[c+1]);
      const y0=yScale(timeEdges[r]),y1=yScale(timeEdges[r+1]);
      const cell=make('rect',{x:x0,y:y0,width:x1-x0+0.5,height:y1-y0+0.5,fill:colorOf(val)},cells);
      
      
    });
  });
  const frame=make('rect',{x:left,y:top,width:right-left,height:bottom-top,fill:'none',stroke:'#000','stroke-width':3.5},g);
  
  
  velocityTicks.forEach((v,i)=>{
    const x=v===1200?left+2:xScale(v);
    const tick=make('line',{x1:x,x2:x,y1:top-19,y2:top,stroke:'#000','stroke-width':2.2},g);
    
    
    const label=make('text',{x:x+2,y:top-28,'font-size':50,'text-anchor':'middle'},g);
    label.textContent=velocityTickLabels[i];
    
    
  });
  timeTicks.forEach((t,i)=>{
    const y=yScale(t);
    const tick=make('line',{x1:left-19,x2:left,y1:y,y2:y,stroke:'#000','stroke-width':2.6},g);
    
    
    const label=make('text',{x:left-22,y:y+17,'font-size':50,'text-anchor':'end'},g);
    label.textContent=timeTickLabels[i];
    
    
  });
  const title=make('text',{x:(left+right)/2,y:top-87,'font-size':51.5,'text-anchor':'middle'},g);
  title.textContent='Velocity(m/s)';
  
  
  const yx=left-109,yy=(top+bottom)/2+2;
  const ytitle=make('text',{x:yx,y:yy,'font-size':51.5,'text-anchor':'middle',transform:'rotate(-90 '+yx+' '+yy+')'},g);
  ytitle.textContent='Time(s)';
  
  
  const cap=make('text',{x:captionX,y:1259,'font-size':85,'text-anchor':'middle','class':'cap'},g);
  const a=make('tspan',{},cap);a.textContent='(';
  const b=make('tspan',{'font-weight':'bold'},cap);b.textContent=panelCaptions[['a','b','c'].indexOf(id)];
  const d=make('tspan',{},cap);d.textContent=')';
  
  
}
drawPanel('a',semblanceA,179,670,159,351);
drawPanel('b',semblanceB,1071,1562,154,1243);
drawPanel('c',semblanceC,1960,2451,152,2131);
</script>
</body>
</html>
